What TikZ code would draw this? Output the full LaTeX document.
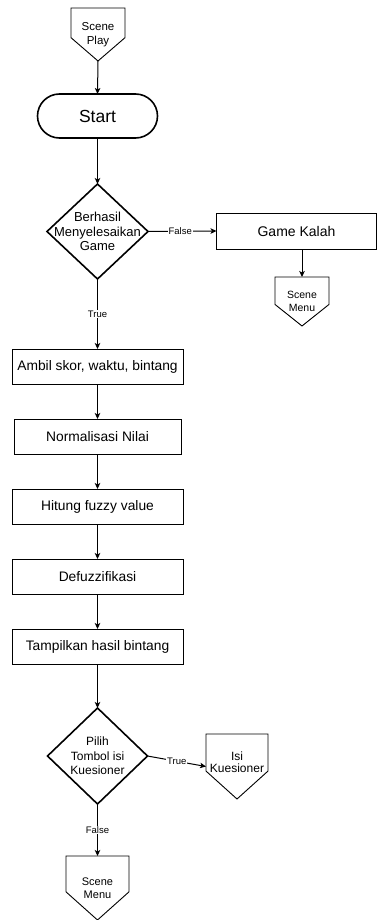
\documentclass[tikz,border=0pt]{standalone}
\usepackage{fontspec}
\setmainfont{Liberation Sans}
\usetikzlibrary{arrows.meta,calc}

\newcommand\fs[2]{\fontsize{#1}{#2}\selectfont}

\tikzset{
  ink/.style={line width=1pt, draw=black},
  base/.style={text=black, align=center, inner sep=0pt, outer sep=0pt},
  procbox/.style={base, ink, font=\fs{13.8}{16}, minimum height=35pt},
  termbox/.style={base, line width=1.6pt, draw=black, rounded corners=22pt,
                  font=\fs{17.5}{20}, minimum width=120pt, minimum height=44pt},
  decbox/.style={base, draw=none},
  pagebox/.style={base, draw=none},
  flow/.style={ink, -{Stealth[length=6pt,width=5.5pt,inset=1.5pt]}},
  edgelabel/.style={fill=white, inner sep=1pt, font=\fs{9.5}{11}, text=black},
}

% off-page connector: pentagon pointing down, drawn round a named node
\newcommand\offpage[2][0.56]{%
  \draw[ink, line width=0.9pt] (#2.north west) -- (#2.north east)
    -- ($(#2.north east)!#1!(#2.south east)$) -- (#2.south)
    -- ($(#2.north west)!#1!(#2.south west)$) -- cycle;}
% decision: diamond through the four side anchors of a named node
\newcommand\decision[1]{%
  \draw[line width=1.6pt] (#1.north) -- (#1.east) -- (#1.south) -- (#1.west) -- cycle;}

\begin{document}
\begin{tikzpicture}[x=1pt, y=-1pt]
  \useasboundingbox (0,0) rectangle (377,920);

  % main column
  \node[pagebox, minimum width=54pt, minimum height=53pt, font=\fs{11.5}{14}]
       (play) at (98,34.5) {Scene\\Play};
  \offpage{play}
  \node[termbox] (start) at (97.5,116) {Start};
  \node[decbox, minimum width=101pt, minimum height=95pt, font=\fs{13}{14.5}]
       (done) at (97.5,231.5) {Berhasil\\Menyelesaikan\\Game};
  \decision{done}
  \node[procbox, minimum width=171pt] (ambil)  at (97.5,366.5) {Ambil skor, waktu, bintang};
  \node[procbox, minimum width=167pt] (norm)   at (97.5,436.5) {Normalisasi Nilai};
  \node[procbox, minimum width=171pt] (hitung) at (97.5,506.5) {Hitung fuzzy value};
  \node[procbox, minimum width=171pt] (defuz)  at (97.5,576.5) {Defuzzifikasi};
  \node[procbox, minimum width=171pt] (tampil) at (97.5,646.5) {Tampilkan hasil bintang};
  \node[decbox, minimum width=100pt, minimum height=96pt, font=\fs{12}{14.5}]
       (pilih) at (97.5,756) {Pilih\\Tombol isi\\Kuesioner};
  \decision{pilih}
  \node[pagebox, minimum width=63pt, minimum height=64pt, font=\fs{11}{13.5}]
       (menub) at (97.5,888) {Scene\\Menu};
  \offpage{menub}

  % side branches
  \node[procbox, minimum width=160pt, minimum height=36pt, font=\fs{14}{16}]
       (kalah) at (296.5,231) {Game Kalah};
  \node[pagebox, minimum width=54pt, minimum height=49pt, font=\fs{10.5}{13}]
       (menua) at (302,301.5) {Scene\\Menu};
  \offpage{menua}
  \node[pagebox, minimum width=62pt, minimum height=65pt, font=\fs{12}{15}]
       (isi) at (237,766.5) {\raisebox{9pt}{\shortstack{Isi\\Kuesioner}}};
  \offpage[0.57]{isi}

  % connectors
  \draw[flow] (play.south) -- (start.north);
  \draw[flow] (start.south) -- (done.north);
  \draw[flow] (done.east) -- node[edgelabel, pos=0.47] {False} (kalah.west);
  \draw[flow] (menua.north |- kalah.south) -- (menua.north);
  \draw[flow] (done.south) -- node[edgelabel, pos=0.5] {True} (ambil.north);
  \draw[flow] (ambil) -- (norm);
  \draw[flow] (norm) -- (hitung);
  \draw[flow] (hitung) -- (defuz);
  \draw[flow] (defuz) -- (tampil);
  \draw[flow] (tampil) -- (pilih.north);
  \draw[flow] (pilih.east) -- node[edgelabel, pos=0.5] {True} (isi.west);
  \draw[flow] (pilih.south) -- node[edgelabel, pos=0.5] {False} (menub.north);
\end{tikzpicture}
\end{document}
